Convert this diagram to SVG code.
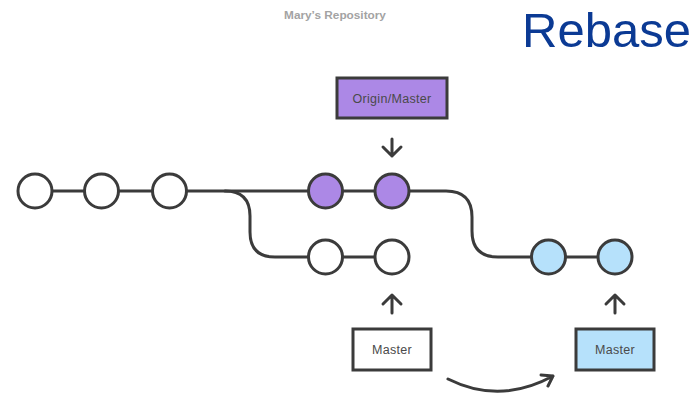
<svg xmlns="http://www.w3.org/2000/svg" width="696" height="394" viewBox="0 0 696 394">
<style>
.line{fill:none;stroke:#3b3b3b;stroke-width:3;stroke-linecap:round;stroke-linejoin:round}
.c{stroke:#3b3b3b;stroke-width:3}
.w{fill:#ffffff}.p{fill:#ac88e6}.b{fill:#b6e1fb}
.box{stroke:#3b3b3b;stroke-width:3}
.lbl{font-family:"Liberation Sans",Arial,sans-serif;font-size:12.5px;fill:#4a4a4a;text-anchor:middle;letter-spacing:0.3px}
</style>
<rect width="696" height="394" fill="#ffffff"/>
<text x="335" y="19" font-family="Liberation Sans,Arial,sans-serif" font-size="11.8" font-weight="bold" fill="#a3a3a3" text-anchor="middle">Mary’s Repository</text>
<text x="522" y="47" font-family="Liberation Sans,Arial,sans-serif" font-size="49" fill="#0b3a94">Rebase</text>
<g id="connectors">
<path class="line" d="M52 191 L84 191 M119 191 L152 191 M187 191 L308 191 M343 191 L375 191"/>
<path class="line" d="M225 191 Q250 191 250 216 L250 232 Q250 257 275 257 L308 257 M343 257 L375 257"/>
<path class="line" d="M409 191 L446 191 Q472 191 472 217 L472 231 Q472 257 498 257 L531 257 M566 257 L598 257"/>
<path class="line" d="M392 139 L392 156 M383 147 L392 156 L401 147"/>
<path class="line" d="M392 313 L392 295 M383 304 L392 295 L401 304"/>
<path class="line" d="M615 313 L615 295 M606 304 L615 295 L624 304"/>
<path class="line" d="M448 379 Q500 405 553 376 M541 375 L553 376 L548 386"/>
</g>
<g id="c1"><circle class="c w" cx="35" cy="191" r="17"/></g>
<g id="c2"><circle class="c w" cx="101.5" cy="191" r="17"/></g>
<g id="c3"><circle class="c w" cx="169.5" cy="191" r="17"/></g>
<g id="p1"><circle class="c p" cx="325.5" cy="191" r="17"/></g>
<g id="p2"><circle class="c p" cx="392" cy="191" r="17"/></g>
<g id="w1"><circle class="c w" cx="325.5" cy="257" r="17"/></g>
<g id="w2"><circle class="c w" cx="392" cy="257" r="17"/></g>
<g id="b1"><circle class="c b" cx="548.5" cy="257" r="17"/></g>
<g id="b2"><circle class="c b" cx="615" cy="257" r="17"/></g>
<g id="origin-master"><rect class="box" x="337" y="78" width="110" height="40" fill="#ac88e6"/><text class="lbl" x="392" y="103">Origin/Master</text></g>
<g id="master-old"><rect class="box" x="353" y="329" width="78" height="41" fill="#ffffff"/><text class="lbl" x="392" y="354">Master</text></g>
<g id="master-new"><rect class="box" x="576" y="329" width="78" height="41" fill="#b6e1fb"/><text class="lbl" x="615" y="354">Master</text></g>
</svg>
